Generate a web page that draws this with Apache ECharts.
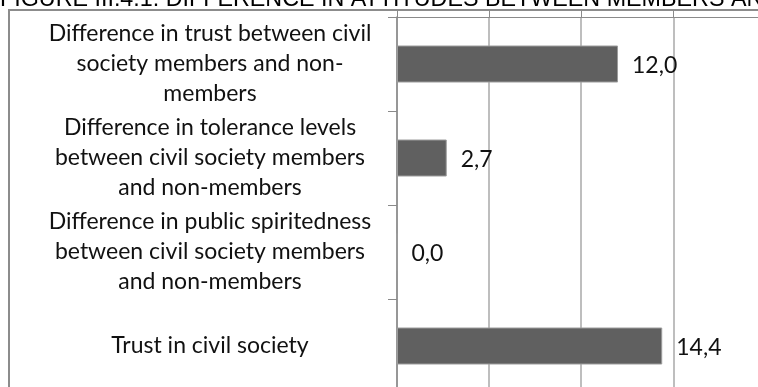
<!DOCTYPE html>
<html>
<head>
<meta charset="utf-8">
<script src="https://cdn.jsdelivr.net/npm/echarts@6/dist/echarts.min.js"></script>
<style>
  html, body { margin: 0; padding: 0; background: #fff; }
  #chart { width: 758px; height: 387px; }
</style>
</head>
<body>
<div id="chart"></div>
<script>
// Categories, top to bottom
const categories = [
  'Difference in trust between civil\nsociety members and non-\nmembers',
  'Difference in tolerance levels\nbetween civil society members\nand non-members',
  'Difference in public spiritedness\nbetween civil society members\nand non-members',
  'Trust in civil society'
];
// Values shown next to each bar
const values = [12.0, 2.7, 0.0, 14.4];
// Value axis range and step (the plot area is cut at the right edge)
const axisMin = 0;
const axisMax = 19.6;
const axisStep = 5;

const titleText = 'FIGURE III.4.1: DIFFERENCE IN ATTITUDES BETWEEN MEMBERS AND NON-MEMBERS';

const chart = echarts.init(document.getElementById('chart'), null, { renderer: 'canvas' });

const labelFont = 'Lato, "Open Sans", sans-serif';

chart.setOption({
  animation: false,
  backgroundColor: '#ffffff',
  graphic: [
    {
      type: 'text',
      x: 0,
      y: -0.5,
      style: {
        text: titleText,
        font: '23.3px "Liberation Sans", Arial, sans-serif',
        fill: '#000000',
        verticalAlign: 'middle'
      },
      z: 10
    },
    {
      type: 'rect',
      shape: { x: 9, y: 10, width: 800, height: 400 },
      style: { fill: 'none', stroke: '#8c8c8c', lineWidth: 2 },
      z: 0
    }
  ],
  grid: {
    left: 397,
    top: 17,
    width: 361,
    height: 376,
    containLabel: false,
    outerBoundsMode: 'none'
  },
  xAxis: {
    type: 'value',
    position: 'top',
    min: axisMin,
    max: axisMax,
    interval: axisStep,
    axisLine: { show: true, lineStyle: { color: '#8a8a8a', width: 1 } },
    axisTick: { show: true, length: 7, lineStyle: { color: '#8a8a8a' } },
    axisLabel: { show: false },
    splitLine: { show: true, showMaxLine: false, lineStyle: { color: '#a8a8a8', width: 1.5 } }
  },
  yAxis: {
    type: 'category',
    inverse: true,
    data: categories,
    axisLine: { show: true, lineStyle: { color: '#8a8a8a', width: 1.5 } },
    axisTick: { show: true, length: 9, lineStyle: { color: '#8a8a8a' } },
    axisLabel: {
      margin: 187,
      align: 'center',
      verticalAlign: 'middle',
      padding: [4, 0, 0, 0],
      fontFamily: labelFont,
      fontSize: 23,
      lineHeight: 30,
      color: '#111111'
    }
  },
  series: [
    {
      type: 'bar',
      data: values,
      barWidth: 37,
      itemStyle: { color: '#606060', borderColor: '#9c9c9c', borderWidth: 1 },
      label: {
        show: true,
        position: 'right',
        distance: 14,
        offset: [0, 2],
        fontFamily: labelFont,
        fontSize: 23,
        color: '#111111',
        formatter: p => p.value.toFixed(1).replace('.', ',')
      }
    }
  ]
});
</script>
</body>
</html>
